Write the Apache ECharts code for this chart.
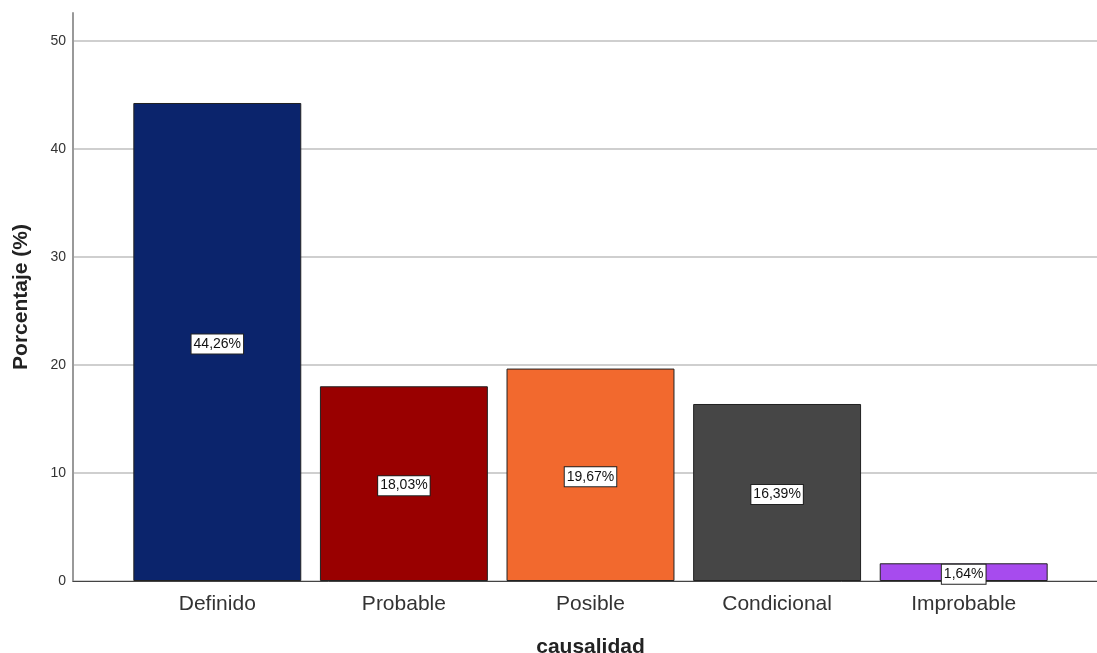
<!DOCTYPE html>
<html>
<head>
    <meta charset="UTF-8">
    <title>causalidad</title>
    <script type="text/javascript" src="https://cdn.jsdelivr.net/npm/echarts@6/dist/echarts.min.js"></script>
    <style>
        body {
            margin: 0;
            padding: 0;
            background-color: #fff;
        }
    </style>
</head>
<body>
<div id="chart" style="width:1097px; height:653px;"></div>

<script>
    // datos
    var categorias = ['Definido', 'Probable', 'Posible', 'Condicional', 'Improbable'];
    var porcentajes = [44.26, 18.03, 19.67, 16.39, 1.64];
    var colores = ['#0B246C', '#990000', '#F2692E', '#464646', '#A74BEE'];

    var chart = echarts.init(document.getElementById('chart'), null, {renderer: 'canvas'});
    var fuente = '"Liberation Sans", Arial, sans-serif';

    var option = {
        animation: false,
        grid: [
            // rejilla con etiquetas y lineas
            {left: 73, right: 0, top: 41, bottom: 72, containLabel: false, outerBoundsMode: 'none'},
            // solo la linea del eje y (sube por encima de 50)
            {left: 73, right: 0, top: 13, bottom: 72, containLabel: false, outerBoundsMode: 'none'},
            // barras
            {left: 124, right: 40, top: 41, bottom: 72, containLabel: false, outerBoundsMode: 'none'}
        ],
        xAxis: [
            {
                gridIndex: 0, type: 'value', min: 0, max: 1,
                axisLine: {show: true, lineStyle: {color: '#444', width: 1}},
                axisTick: {show: false}, axisLabel: {show: false}, splitLine: {show: false}
            },
            {
                gridIndex: 1, type: 'value', min: 0, max: 1, show: false
            },
            {
                gridIndex: 2, type: 'category', data: categorias,
                axisLine: {show: false}, axisTick: {show: false},
                axisLabel: {fontFamily: fuente, fontSize: 21, color: '#333', margin: 13},
                name: 'causalidad', nameLocation: 'middle', nameGap: 56,
                nameTextStyle: {fontFamily: fuente, fontSize: 21, fontWeight: 'bold', color: '#222'}
            }
        ],
        yAxis: [
            {
                gridIndex: 0, type: 'value', min: 0, max: 50, interval: 10,
                axisLine: {show: false}, axisTick: {show: false},
                axisLabel: {fontFamily: fuente, fontSize: 14, color: '#333', margin: 7},
                splitLine: {show: true, lineStyle: {color: '#cfcfcf', width: 2}}
            },
            {
                gridIndex: 1, type: 'value', min: 0, max: 1,
                axisLine: {show: true, lineStyle: {color: '#999', width: 2}},
                axisTick: {show: false}, axisLabel: {show: false}, splitLine: {show: false},
                name: 'Porcentaje (%)', nameLocation: 'middle', nameGap: 41,
                nameTextStyle: {fontFamily: fuente, fontSize: 21, fontWeight: 'bold', color: '#222'}
            },
            {
                gridIndex: 2, type: 'value', min: 0, max: 50, show: false
            }
        ],
        series: [
            {
                type: 'bar',
                xAxisIndex: 2,
                yAxisIndex: 2,
                barCategoryGap: '10%',
                data: porcentajes.map(function (v, i) {
                    return {value: v, itemStyle: {color: colores[i]}};
                }),
                itemStyle: {borderColor: '#222', borderWidth: 1},
                label: {
                    show: true,
                    position: 'inside',
                    offset: [0, 2],
                    formatter: function (p) {
                        return p.value.toFixed(2).replace('.', ',') + '%';
                    },
                    fontFamily: fuente,
                    fontSize: 14,
                    color: '#111',
                    backgroundColor: '#fff',
                    borderColor: '#222',
                    borderWidth: 1,
                    padding: [3, 2, 2, 2]
                }
            }
        ]
    };

    chart.setOption(option);
</script>
</body>
</html>
